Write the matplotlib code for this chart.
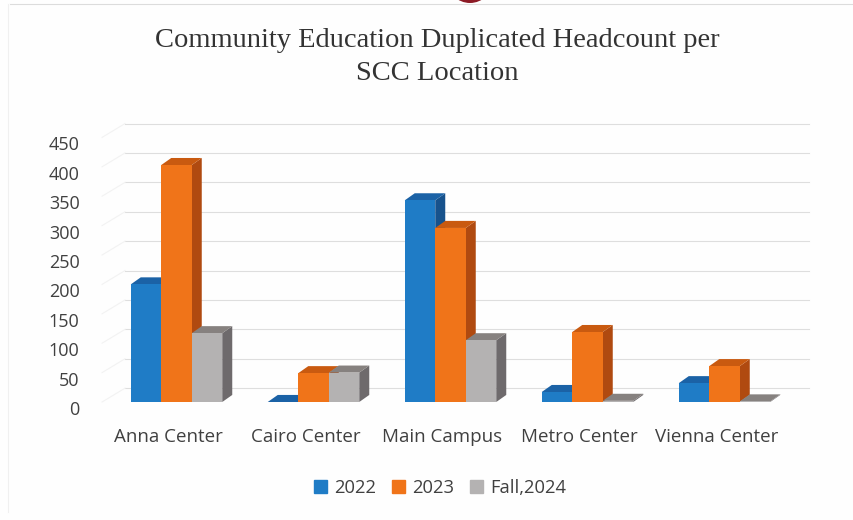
#!/usr/bin/env python3
"""Community education headcount per location, as a fake-3D column chart."""
import matplotlib
matplotlib.use("Agg")
import matplotlib.pyplot as plt
from matplotlib.lines import Line2D
from matplotlib.patches import Patch, Wedge
from matplotlib.transforms import ScaledTranslation

locations = ["Anna Center", "Cairo Center", "Main Campus", "Metro Center", "Vienna Center"]
series_names = ["2022", "2023", "Fall,2024"]
values_2022 = [200, 0, 343, 17, 32]
values_2023 = [403, 49, 296, 119, 61]
values_fall = [117, 50, 105, 2, 1]
y_ticks = [0, 50, 100, 150, 200, 250, 300, 350, 400, 450]

TITLE = "Community Education Duplicated Headcount per\nSCC Location"
FRONT = ["#1f7cc6", "#f07419", "#b4b2b2"]
TOP = ["#1b62a6", "#c95a10", "#86817f"]
SIDE = ["#17528c", "#b04a10", "#6e6a6c"]
TEXT = "#404040"
GRID = "#dedede"

W, H = 854, 520
plt.rcParams["font.family"] = ["Open Sans", "DejaVu Sans"]

fig = plt.figure(figsize=(W / 100, H / 100), dpi=100, facecolor="#fefefe")

# axes box: y=0 on the front plane sits at 402 px, x=0 is the first group centre
left, right, bottom, top = 100, 810, H - 402, H - 137.4
ax = fig.add_axes([left / W, bottom / H, (right - left) / W, (top - bottom) / H])
ax.set_xlim((left - 176.5) / 137, (right - 176.5) / 137)
ax.set_ylim(0, 450)
ax.patch.set_alpha(0)
for s in ax.spines.values():
    s.set_visible(False)

bar_w = 30.5 / 137
depth_x, depth_y = 10 / 137, 12.0       # depth of one bar, in data units
wall_x, wall_y = 25 / 137, 23.5         # depth of the floor / side wall
x0, x1 = ax.get_xlim()

# back wall gridlines and the faint lines on the side wall
for t in y_ticks:
    ax.plot([x0 + wall_x, x1 - 0.01], [t + wall_y, t + wall_y], color=GRID, lw=0.8, zorder=1, clip_on=False)
    ax.plot([x0 + 0.015, x0 + wall_x], [t, t + wall_y], color="#f2f2f2", lw=0.8, zorder=1, clip_on=False)


def draw_bar(x, h, i):
    xl, xr = x, x + bar_w
    ax.fill([xr, xr + depth_x, xr + depth_x, xr], [0, depth_y, h + depth_y, h], color=SIDE[i], lw=0, zorder=3)
    ax.fill([xl, xr, xr + depth_x, xl + depth_x], [h, h, h + depth_y, h + depth_y], color=TOP[i], lw=0, zorder=3)
    if h > 0:
        ax.bar(xl, h, width=bar_w, align="edge", color=FRONT[i], lw=0, zorder=3)


for g in range(len(locations)):
    for i, vals in enumerate([values_2022, values_2023, values_fall]):
        draw_bar(g + (i - 1.5) * bar_w, vals[g], i)

ax.set_xticks(range(len(locations)))
ax.set_xticklabels(locations)
ax.set_yticks(y_ticks)
ax.tick_params(axis="x", length=0, labelsize=13.5, colors=TEXT, pad=19)
ax.tick_params(axis="y", length=0, labelsize=13, colors=TEXT, pad=19)

# scanned labels do not sit exactly on the ticks
for lab in ax.get_xticklabels():
    lab.set_transform(lab.get_transform() + ScaledTranslation(-8 / 100, 0, fig.dpi_scale_trans))
for lab in ax.get_yticklabels():
    lab.set_transform(lab.get_transform() + ScaledTranslation(6 / 100, -6 / 100, fig.dpi_scale_trans))

fig.text(437 / W, 1 - 57 / H, TITLE, ha="center", va="center", family="Liberation Serif",
         fontsize=20.5, color="#333333", linespacing=1.42)

handles = [Patch(color=c, label=n) for c, n in zip(FRONT, series_names)]
fig.legend(handles=handles, loc="center", bbox_to_anchor=(440 / W, 1 - 488 / H), ncol=3, frameon=False,
           fontsize=13.2, labelcolor=TEXT, handlelength=0.72, handleheight=0.72, handletextpad=0.4,
           columnspacing=0.85)

# scan leftovers: cut-off letterhead logo and the faint page frame
page = fig.add_axes([0, 0, 1, 1], zorder=-1)
page.set_xlim(0, W)
page.set_ylim(H, 0)
page.axis("off")
page.add_patch(Wedge((470, -20), 23, 0, 180, width=6, color="#8c1a25", lw=0))
page.add_line(Line2D([10, W], [4, 4], color="#dcdcdc", lw=0.8))
page.add_line(Line2D([8, 8], [4, 512], color="#f0f0f0", lw=0.8))

fig.savefig("out.png", dpi=100, facecolor=fig.get_facecolor())
